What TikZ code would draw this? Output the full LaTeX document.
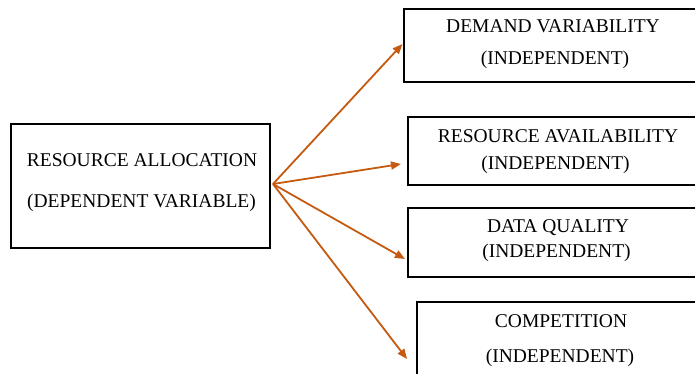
\documentclass[tikz,border=0pt]{standalone}
\usepackage{fontspec}
\setmainfont{Liberation Serif}
\usetikzlibrary{arrows.meta}
\definecolor{linkorange}{RGB}{197,90,17}
\tikzset{
  varbox/.style={draw=black, line width=2pt, inner sep=0pt, fill=white},
  boxtext/.style={anchor=base, inner sep=0pt, font=\fontsize{19.5}{22}\selectfont},
  link/.style={draw=linkorange, line width=1.8pt, -{Triangle[length=10pt,width=8pt]}}
}
\begin{document}
\begin{tikzpicture}[x=1pt, y=-1pt]
  \useasboundingbox (0,0) rectangle (695,374);
  \clip (0,0) rectangle (695,374);
  \fill[white] (0,0) rectangle (695,374);

  % dependent variable
  \node[varbox, minimum width=259pt, minimum height=124pt] (dep) at (140.5,186) {};
  \node[boxtext] (depA) at (142,167) {RESOURCE ALLOCATION};
  \node[boxtext] (depB) at (141.5,207) {(DEPENDENT VARIABLE)};

  % independent variables (boxes run past the right edge)
  \node[varbox, minimum width=306.5pt, minimum height=73pt] (dem) at (556.75,46) {};
  \node[boxtext] (demA) at (553,33) {DEMAND VARIABILITY};
  \node[boxtext] (demB) at (555,65) {(INDEPENDENT)};

  \node[varbox, minimum width=302pt, minimum height=67pt] (ava) at (559,151) {};
  \node[boxtext] (avaA) at (558,143) {RESOURCE AVAILABILITY};
  \node[boxtext] (avaB) at (555.5,169) {(INDEPENDENT)};

  \node[varbox, minimum width=302pt, minimum height=69pt] (dq) at (559,242.5) {};
  \node[boxtext] (dqA) at (558,232) {DATA QUALITY};
  \node[boxtext] (dqB) at (556.5,257) {(INDEPENDENT)};

  \node[varbox, minimum width=293.5pt, minimum height=98pt] (comp) at (563.25,351) {};
  \node[boxtext] (compA) at (561,327) {COMPETITION};
  \node[boxtext] (compB) at (560,362) {(INDEPENDENT)};

  % arrows fanning out from the dependent variable
  \coordinate (hub) at ([shift={(2,-2)}]dep.east);
  \draw[link] (hub) -- ([shift={(0,-2)}]dem.west);
  \draw[link] (hub) -- ([shift={(-6,13)}]ava.west);
  \draw[link] (hub) -- ([shift={(-2,16.5)}]dq.west);
  \draw[link] (hub) -- ([shift={(-8.5,8)}]comp.west);
\end{tikzpicture}
\end{document}
